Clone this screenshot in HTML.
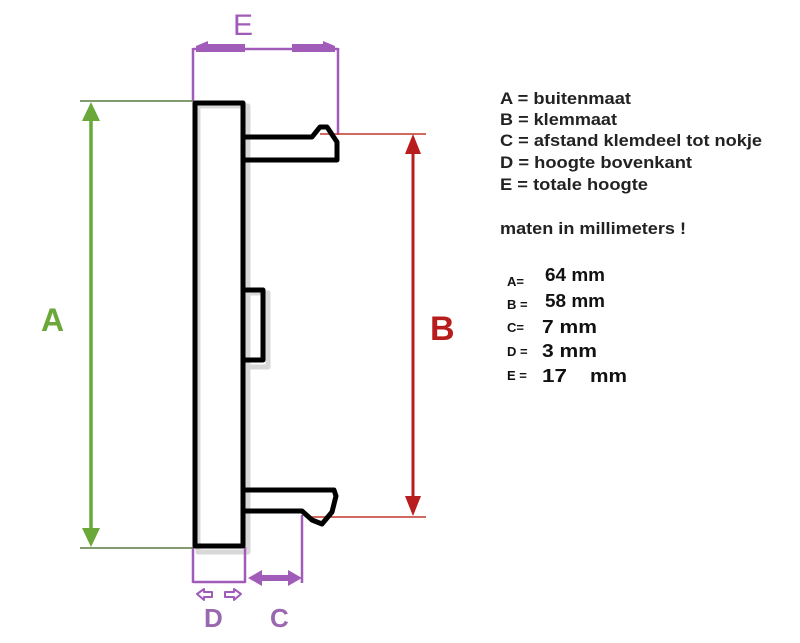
<!DOCTYPE html>
<html><head><meta charset="utf-8"><style>
html,body{margin:0;padding:0;background:#fff;width:800px;height:643px;overflow:hidden}
svg{display:block}
</style></head><body>
<svg width="800" height="643" viewBox="0 0 800 643" xmlns="http://www.w3.org/2000/svg">
<g fill="none" stroke-linejoin="round">
<g stroke="#d8d8d8" stroke-width="5">
<rect x="198" y="106" width="50" height="446"/>
<rect x="248" y="293" width="20" height="74"/>
</g>
<g stroke="#a05cb8" stroke-width="2.5">
<line x1="193" y1="48" x2="193" y2="101"/>
<line x1="338" y1="48" x2="338" y2="135"/>
<line x1="193" y1="49" x2="338" y2="49"/>
<line x1="193" y1="547" x2="193" y2="583"/>
<line x1="245" y1="547" x2="245" y2="583"/>
<line x1="193" y1="582" x2="245" y2="582"/>
<line x1="302" y1="515" x2="302" y2="583"/>
</g>
<g fill="#a05cb8" stroke="none">
<path d="M196 46 L208 41 L208 44 L245 44 L245 52 L196 52 Z"/>
<path d="M335 46 L323 41 L323 44 L292 44 L292 52 L335 52 Z"/>
<path d="M248 578 L262 570 L262 575 L288 575 L288 570 L302 578 L288 586 L288 581 L262 581 L262 586 Z"/>
</g>
<g stroke="#a05cb8" stroke-width="2" fill="#fff">
<path d="M197 594 L204 589 L204 592 L212 592 L212 597 L204 597 L204 600 Z"/>
<path d="M241 594 L234 589 L234 592 L225 592 L225 597 L234 597 L234 600 Z"/>
</g>
<g stroke="#5a7a40" stroke-width="1.5">
<line x1="80" y1="101" x2="193" y2="101"/>
<line x1="80" y1="548" x2="193" y2="548"/>
</g>
<line x1="91" y1="115" x2="91" y2="535" stroke="#6aa83a" stroke-width="3.5"/>
<path d="M91 102 L82 121 L100 121 Z M91 547 L82 528 L100 528 Z" fill="#6aa83a"/>
<g stroke="#c0392b" stroke-width="1.5">
<line x1="320" y1="134" x2="426" y2="134"/>
<line x1="310" y1="517" x2="426" y2="517"/>
</g>
<line x1="413" y1="150" x2="413" y2="500" stroke="#b81c1c" stroke-width="3"/>
<path d="M413 134 L405 154 L421 154 Z M413 516 L405 496 L421 496 Z" fill="#b81c1c"/>
<g stroke="#000" stroke-width="5">
<rect x="195" y="103" width="48" height="443"/>
<rect x="243" y="290" width="20" height="70"/>
<path d="M243 137 L312 137 L320 127 L327 127 L337 142 L337 160 L243 160"/>
<path d="M243 490 L334 490 L336 496 L332 512 L322 524 L312 520 L302 511 L243 511"/>
</g>
</g>
<g font-family="Liberation Sans, sans-serif">
<text x="233" y="35" font-size="30" fill="#a05cb8">E</text>
<text x="41" y="331" font-size="32" font-weight="bold" fill="#6aa83a">A</text>
<text x="430" y="340" font-size="34" font-weight="bold" fill="#b81c1c">B</text>
<text x="204" y="627" font-size="26" font-weight="bold" fill="#9a68b0">D</text>
<text x="270" y="627" font-size="26" font-weight="bold" fill="#9a68b0">C</text>
<g font-size="17" font-weight="bold" fill="#222">
<text x="500" y="104" textLength="131" lengthAdjust="spacingAndGlyphs">A = buitenmaat</text>
<text x="500" y="125" textLength="117" lengthAdjust="spacingAndGlyphs">B = klemmaat</text>
<text x="500" y="146" textLength="262" lengthAdjust="spacingAndGlyphs">C = afstand klemdeel tot nokje</text>
<text x="500" y="168" textLength="192" lengthAdjust="spacingAndGlyphs">D = hoogte bovenkant</text>
<text x="500" y="190" textLength="148" lengthAdjust="spacingAndGlyphs">E = totale hoogte</text>
<text x="500" y="234" textLength="186" lengthAdjust="spacingAndGlyphs">maten in millimeters !</text>
</g>
<g font-size="13" font-weight="bold" fill="#111">
<text x="507" y="286">A=</text>
<text x="507" y="309">B =</text>
<text x="507" y="332">C=</text>
<text x="507" y="356">D =</text>
<text x="507" y="380">E =</text>
</g>
<g font-size="18" font-weight="bold" fill="#111">
<text x="545" y="281" textLength="60" lengthAdjust="spacingAndGlyphs">64 mm</text>
<text x="545" y="307" textLength="60" lengthAdjust="spacingAndGlyphs">58 mm</text>
<text x="542" y="333" textLength="55" lengthAdjust="spacingAndGlyphs">7 mm</text>
<text x="542" y="357" textLength="55" lengthAdjust="spacingAndGlyphs">3 mm</text>
<text x="542" y="382" textLength="25" lengthAdjust="spacingAndGlyphs">17</text>
<text x="590" y="382" textLength="37" lengthAdjust="spacingAndGlyphs">mm</text>
</g>
</g>
</svg>
</body></html>
